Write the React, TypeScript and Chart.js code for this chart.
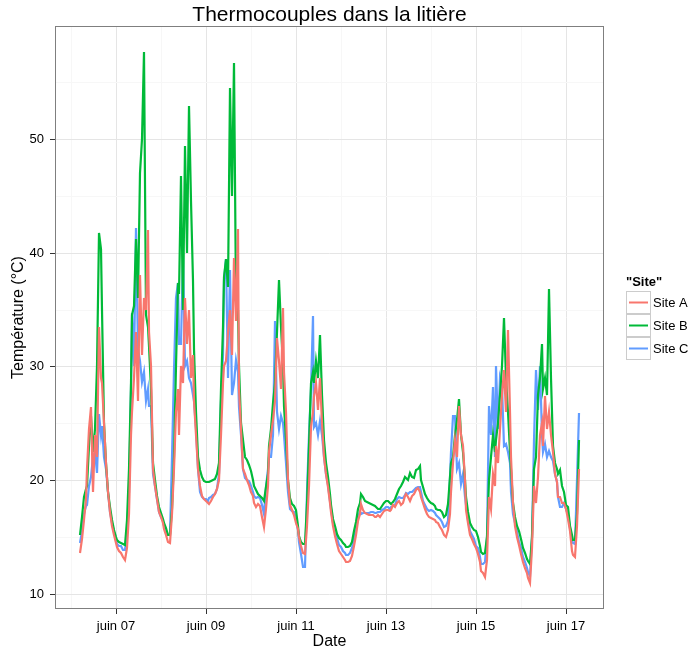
import React, { useEffect, useRef } from 'react';
import { Chart, registerables } from 'chart.js';

Chart.register(...registerables);

// Hourly sampling, counted in hours from 6 June 00:00
const firstHour = 5;
const stepHours = 1;

const siteA = [
  13.6, 14.8, 16.5, 18.3, 21.0, 24.5, 26.4, 19.0, 24.0, 22.0, 33.5, 29.0, 28.5, 25.0, 21.5, 19.0, 17.2, 16.0, 15.2, 14.5, 14.1, 13.8, 13.6, 13.2,
  13.0, 14.0, 17.0, 24.0, 26.0, 29.0, 33.0, 27.0, 38.0, 31.0, 36.0, 35.0, 42.0, 33.0, 30.0, 21.0, 19.5, 18.3, 17.2, 16.8, 16.2, 15.7, 15.2, 14.6,
  14.5, 17.0, 21.0, 26.0, 28.0, 24.0, 30.0, 28.5, 36.0, 32.0, 35.0, 29.0, 31.0, 27.0, 24.0, 21.0, 19.5, 18.6, 18.3, 18.2, 18.0, 17.9, 18.2, 18.5,
  18.8, 19.2, 20.0, 24.0, 28.5, 30.0, 30.5, 33.0, 35.0, 31.0, 39.5, 34.0, 42.1, 28.0, 24.5, 21.0, 20.5, 20.0, 19.6, 19.0, 18.6, 18.0, 17.6, 17.9,
  17.7, 16.8, 15.9, 17.5, 19.5, 22.5, 24.0, 25.3, 27.0, 32.5, 30.5, 28.0, 35.1, 29.5, 26.0, 20.0, 17.8, 17.4, 16.9, 16.2, 15.7, 15.0, 14.2, 13.6,
  13.5, 16.0, 19.5, 24.7, 26.0, 27.4, 28.5, 26.2, 29.0, 25.0, 22.0, 20.5, 19.4, 18.0, 17.2, 16.0, 15.1, 14.4, 13.8, 13.5, 13.2, 13.0, 12.8, 12.8,
  12.9, 13.3, 14.2, 15.2, 16.4, 17.0, 17.9, 17.4, 17.1, 17.0, 16.9, 16.9, 16.9, 16.8, 16.8, 16.9, 16.8, 17.0, 17.3, 17.4, 17.4, 17.3, 17.4, 17.8,
  17.6, 18.0, 18.2, 17.8, 18.0, 18.6, 18.8, 18.5, 18.2, 18.6, 18.8, 19.1, 19.3, 19.0, 18.5, 18.0, 17.5, 17.0, 16.8, 16.7, 16.6, 16.5, 16.3, 16.2,
  15.9, 15.6, 15.2, 15.0, 15.6, 17.0, 19.0, 21.5, 23.5, 22.0, 26.5, 24.0, 23.0, 20.0, 17.4, 16.2, 15.2, 14.8, 14.4, 14.0, 13.5, 12.8, 12.0, 11.8,
  11.5, 13.0, 18.5, 17.5, 20.5, 19.5, 23.0, 21.5, 24.5, 27.5, 29.7, 26.0, 33.2, 26.0, 22.0, 18.0, 16.0, 15.0, 14.3, 13.5, 12.8, 12.3, 11.8, 11.4,
  11.0, 14.0, 19.5, 18.0, 20.3, 24.0, 25.0, 23.0, 27.4, 24.5, 26.0, 24.0, 22.5, 20.5, 19.8, 18.5, 18.5, 18.0, 18.0, 17.5, 16.6, 15.5, 13.8, 13.4,
  13.2, 16.0, 21.0,
];

const siteB = [
  15.2, 16.8, 18.5, 19.2, 19.5, 23.0, 25.6, 22.5, 24.5, 30.0, 41.7, 40.3, 35.0, 25.0, 21.5, 19.0, 17.6, 16.5, 15.6, 15.0, 14.7, 14.6, 14.5, 14.4,
  14.3, 16.5, 21.0, 28.5, 34.5, 35.3, 41.2, 36.0, 47.0, 50.0, 57.6, 34.5, 33.5, 31.8, 28.0, 21.5, 20.0, 18.6, 17.6, 17.1, 16.6, 16.2, 15.8, 15.2,
  15.2, 17.5, 22.0, 30.0, 37.3, 36.4, 46.7, 35.0, 49.4, 40.0, 52.9, 44.5, 37.5, 31.5, 26.0, 22.0, 20.9, 20.3, 19.9, 19.8, 19.8, 19.8, 19.9, 20.0,
  20.1, 20.5, 21.5, 28.0, 33.5, 37.9, 39.4, 37.0, 54.5, 45.0, 56.7, 35.8, 35.0, 30.0, 25.0, 23.5, 22.0, 21.8, 21.3, 20.8, 20.0, 19.5, 19.1, 18.8,
  18.6, 18.4, 18.2, 19.4, 20.5, 23.0, 24.5, 26.8, 28.5, 33.0, 37.6, 33.5, 30.0, 26.5, 23.5, 20.0, 18.4, 17.9, 17.7, 17.4, 16.0, 15.1, 14.6, 14.4,
  14.4, 18.0, 23.0, 28.5, 29.5, 28.5, 30.5, 29.0, 32.8, 27.5, 23.5, 21.5, 20.3, 18.8, 17.8, 16.6, 16.0, 15.3, 14.9, 14.7, 14.5, 14.3, 14.1, 14.1,
  14.2, 14.6, 15.5, 16.3, 17.5, 18.0, 18.8, 18.5, 18.2, 18.1, 18.0, 17.9, 17.8, 17.7, 17.6, 17.5, 17.5, 17.7, 18.0, 18.2, 18.2, 18.0, 17.9, 18.1,
  18.3, 18.8, 19.2, 19.5, 19.8, 20.3, 20.2, 20.0, 20.6, 20.3, 20.2, 20.9, 21.0, 21.2, 20.0, 19.4, 18.8, 18.4, 18.2, 18.0, 17.9, 17.7, 17.5, 17.4,
  17.4, 17.2, 16.8, 16.9, 17.9, 20.3, 21.5, 22.0, 24.0, 25.3, 27.1, 24.0, 22.5, 20.0, 18.5, 17.2, 16.2, 15.9, 15.6, 15.5, 15.0, 14.2, 13.7, 13.5,
  13.6, 15.0, 20.0, 22.0, 24.0, 22.5, 23.5, 25.0, 27.5, 30.0, 34.3, 29.0, 26.0, 22.5, 21.0, 18.0, 16.8, 16.0, 15.5, 14.8, 14.0, 13.6, 13.1, 12.9,
  12.6, 15.0, 21.0, 22.0, 27.5, 29.0, 32.0, 28.0, 29.0, 27.5, 36.8, 29.0, 23.0, 21.5, 21.0, 20.5, 20.9, 19.5, 19.0, 17.8, 17.6, 16.0, 15.2, 14.7,
  14.7, 17.0, 23.5,
];

const siteC = [
  14.5, 15.5, 17.0, 17.7, 17.8, 19.5, 20.3, 22.0, 22.5, 20.6, 25.8, 24.0, 24.8, 22.0, 21.0, 19.0, 17.2, 16.2, 15.4, 14.8, 14.4, 14.2, 14.2, 13.9,
  13.9, 15.5, 19.0, 28.0, 34.7, 30.0, 42.2, 31.5, 30.5, 28.6, 29.5, 27.0, 28.0, 26.5, 26.5, 20.5, 19.5, 18.3, 17.2, 16.8, 16.4, 16.0, 15.5, 15.2,
  15.2, 22.0, 29.7, 36.0, 37.3, 32.0, 32.0, 40.0, 30.0, 30.5, 29.0, 28.5, 27.5, 27.0, 24.5, 21.0, 19.0, 18.5, 18.3, 18.3, 18.2, 18.4, 18.5, 18.7,
  18.8, 19.2, 20.5, 27.0, 31.0, 37.6, 39.4, 29.0, 38.5, 27.5, 28.5, 30.6, 29.5, 26.4, 24.0, 21.0, 20.2, 20.0, 19.9, 19.5, 19.0, 18.6, 18.4, 18.5,
  18.4, 17.8, 17.0, 19.4, 21.0, 22.0, 22.0, 24.0, 34.0, 26.0, 24.5, 25.6, 25.0, 24.0, 21.5, 19.0, 17.5, 17.3, 17.2, 16.5, 15.6, 14.6, 13.5, 12.4,
  12.4, 19.0, 24.0, 28.0, 34.4, 24.7, 25.0, 24.0, 25.2, 24.0, 22.0, 20.5, 19.6, 18.2, 17.5, 16.2, 15.5, 14.9, 14.3, 14.1, 13.8, 13.6, 13.4, 13.4,
  13.6, 14.0, 14.8, 15.6, 16.8, 17.2, 17.0, 17.1, 17.1, 17.1, 17.1, 17.2, 17.2, 17.1, 17.1, 17.2, 17.2, 17.4, 17.5, 17.6, 17.6, 17.5, 17.6, 17.7,
  17.8, 18.3, 18.5, 18.4, 18.4, 18.7, 18.9, 18.8, 19.0, 19.0, 19.1, 19.3, 19.4, 19.4, 19.0, 18.2, 17.8, 17.5, 17.3, 17.4, 17.3, 17.1, 16.9, 16.8,
  16.6, 16.3, 15.9, 16.0, 16.4, 20.3, 22.5, 25.6, 25.6, 21.0, 21.5, 19.7, 20.5, 18.5, 17.8, 16.5, 15.5, 15.2, 14.8, 14.2, 14.0, 13.2, 12.6, 12.6,
  12.8, 15.0, 26.5, 24.0, 28.2, 22.0, 30.0, 24.5, 29.0, 28.2, 23.0, 23.2, 22.5, 21.5, 19.0, 17.0, 16.2, 15.4, 14.6, 14.0, 13.2, 12.8, 12.3, 11.9,
  11.6, 15.0, 23.5, 29.7, 26.2, 30.0, 24.0, 22.5, 23.2, 22.0, 22.6, 22.0, 21.7, 20.5, 19.8, 18.5, 17.6, 17.6, 18.0, 17.5, 16.9, 15.8, 14.7, 14.5,
  14.4, 20.0, 25.9,
];

const seriesNames = ['Site A', 'Site B', 'Site C'];
const seriesColors = ['#F8766D', '#00BA38', '#619CFF'];

const majorDays = [7, 9, 11, 13, 15, 17];
const majorDayLabels = ['juin 07', 'juin 09', 'juin 11', 'juin 13', 'juin 15', 'juin 17'];
const minorDays = [6, 8, 10, 12, 14, 16];
const majorTemps = [10, 20, 30, 40, 50];
const minorTemps = [15, 25, 35, 45, 55];

const chartTitle = 'Thermocouples dans la litière';
const xTitle = 'Date';
const yTitle = 'Température (°C)';
const legendTitle = '"Site"';

const FONT = '"Liberation Sans", Arial, Helvetica, sans-serif';

function toPoints(values: number[]) {
  return values.map((v, i) => ({ x: 6 + (firstHour + i * stepHours) / 24, y: v }));
}

const allValues = [...siteA, ...siteB, ...siteC];
const dataMinX = 6 + firstHour / 24;
const dataMaxX = 6 + (firstHour + (siteA.length - 1) * stepHours) / 24;
const dataMinY = Math.min(...allValues);
const dataMaxY = Math.max(...allValues);
const padX = (dataMaxX - dataMinX) * 0.05;
const padY = (dataMaxY - dataMinY) * 0.05;

const ggFrame = {
  id: 'ggFrame',
  afterDatasetsDraw(chart: any) {
    const { ctx, chartArea } = chart;
    ctx.save();
    ctx.strokeStyle = '#7F7F7F';
    ctx.lineWidth = 1;
    ctx.strokeRect(
      Math.round(chartArea.left) + 0.5,
      Math.round(chartArea.top) + 0.5,
      Math.round(chartArea.right - chartArea.left) - 1,
      Math.round(chartArea.bottom - chartArea.top) - 1
    );
    ctx.restore();
  },
  afterDraw(chart: any) {
    const { ctx, chartArea } = chart;
    const left = Math.round(chartArea.right) + 22;
    const midY = (chartArea.top + chartArea.bottom) / 2;
    const rowH = 23;
    const boxW = 25;
    const top = Math.round(midY - 27);
    ctx.save();
    ctx.fillStyle = '#000';
    ctx.textBaseline = 'middle';
    ctx.textAlign = 'left';
    ctx.font = 'bold 13px ' + FONT;
    ctx.fillText(legendTitle, left, top - 9);
    ctx.font = '13px ' + FONT;
    seriesNames.forEach((name, i) => {
      const y0 = top + i * rowH;
      ctx.fillStyle = '#FFFFFF';
      ctx.fillRect(left, y0, boxW, rowH);
      ctx.strokeStyle = '#CCCCCC';
      ctx.lineWidth = 1;
      ctx.strokeRect(left + 0.5, y0 + 0.5, boxW - 1, rowH - 1);
      ctx.strokeStyle = seriesColors[i];
      ctx.lineWidth = 2;
      ctx.beginPath();
      ctx.moveTo(left + 3, y0 + rowH / 2);
      ctx.lineTo(left + boxW - 3, y0 + rowH / 2);
      ctx.stroke();
      ctx.fillStyle = '#000';
      ctx.fillText(name, left + boxW + 2, y0 + rowH / 2 + 0.5);
    });
    ctx.restore();
  },
};

export default function App() {
  const canvasRef = useRef<HTMLCanvasElement | null>(null);

  useEffect(() => {
    document.body.style.margin = '0';
    const canvas = canvasRef.current;
    if (!canvas) return;
    Chart.defaults.font.family = FONT;

    const chart = new Chart(canvas, {
      type: 'line',
      data: {
        datasets: [siteA, siteB, siteC].map((vals, i) => ({
          label: seriesNames[i],
          data: toPoints(vals),
          borderColor: seriesColors[i],
          backgroundColor: seriesColors[i],
          borderWidth: 2.2,
          pointRadius: 0,
          tension: 0,
          fill: false,
        })),
      },
      options: {
        responsive: false,
        animation: false,
        devicePixelRatio: 1,
        layout: { padding: { left: 0, right: 90, top: 0, bottom: 0 } },
        plugins: {
          legend: { display: false },
          tooltip: { enabled: false },
          title: {
            display: true,
            text: chartTitle,
            fullSize: false,
            color: '#000',
            font: { size: 21, weight: 'normal', family: FONT, lineHeight: 1 },
            padding: { top: 5, bottom: 0 },
          },
        },
        scales: {
          x: {
            type: 'linear',
            min: dataMinX - padX,
            max: dataMaxX + padX,
            alignToPixels: true,
            afterBuildTicks: (axis: any) => {
              axis.ticks = [...minorDays, ...majorDays].sort((a, b) => a - b).map((v) => ({ value: v }));
            },
            afterFit: (axis: any) => {
              axis.height = 41;
            },
            border: { display: false },
            grid: {
              color: (c: any) => (majorDays.includes(c.tick?.value) ? '#E5E5E5' : '#F7F7F7'),
              lineWidth: 1,
              drawTicks: true,
              tickLength: 5,
              tickColor: (c: any) => (majorDays.includes(c.tick?.value) ? '#333333' : 'rgba(0,0,0,0)'),
            },
            ticks: {
              autoSkip: false,
              maxRotation: 0,
              padding: 5,
              color: '#000',
              font: { size: 13, family: FONT },
              callback: (v: any) => {
                const idx = majorDays.indexOf(Number(v));
                return idx >= 0 ? majorDayLabels[idx] : '';
              },
            },
            title: {
              display: true,
              text: xTitle,
              color: '#000',
              font: { size: 16, family: FONT, lineHeight: 1 },
              padding: { top: 0, bottom: 0 },
            },
          },
          y: {
            type: 'linear',
            min: dataMinY - padY,
            max: dataMaxY + padY,
            alignToPixels: true,
            afterBuildTicks: (axis: any) => {
              axis.ticks = [...majorTemps, ...minorTemps].sort((a, b) => a - b).map((v) => ({ value: v }));
            },
            afterFit: (axis: any) => {
              axis.width = 55;
            },
            border: { display: false },
            grid: {
              color: (c: any) => (majorTemps.includes(c.tick?.value) ? '#E5E5E5' : '#F7F7F7'),
              lineWidth: 1,
              drawTicks: true,
              tickLength: 5,
              tickColor: (c: any) => (majorTemps.includes(c.tick?.value) ? '#333333' : 'rgba(0,0,0,0)'),
            },
            ticks: {
              autoSkip: false,
              padding: 6,
              color: '#000',
              font: { size: 13, family: FONT },
              callback: (v: any) => (majorTemps.includes(Number(v)) ? String(v) : ''),
            },
            title: {
              display: true,
              text: yTitle,
              color: '#000',
              font: { size: 16, family: FONT, lineHeight: 1 },
              padding: { top: 11, bottom: 0 },
            },
          },
        },
      },
      plugins: [ggFrame],
    } as any);

    return () => chart.destroy();
  }, []);

  return (
    <div style={{ width: 694, height: 650, background: '#FFFFFF' }}>
      <canvas ref={canvasRef} width={694} height={650} style={{ display: 'block' }} />
    </div>
  );
}
